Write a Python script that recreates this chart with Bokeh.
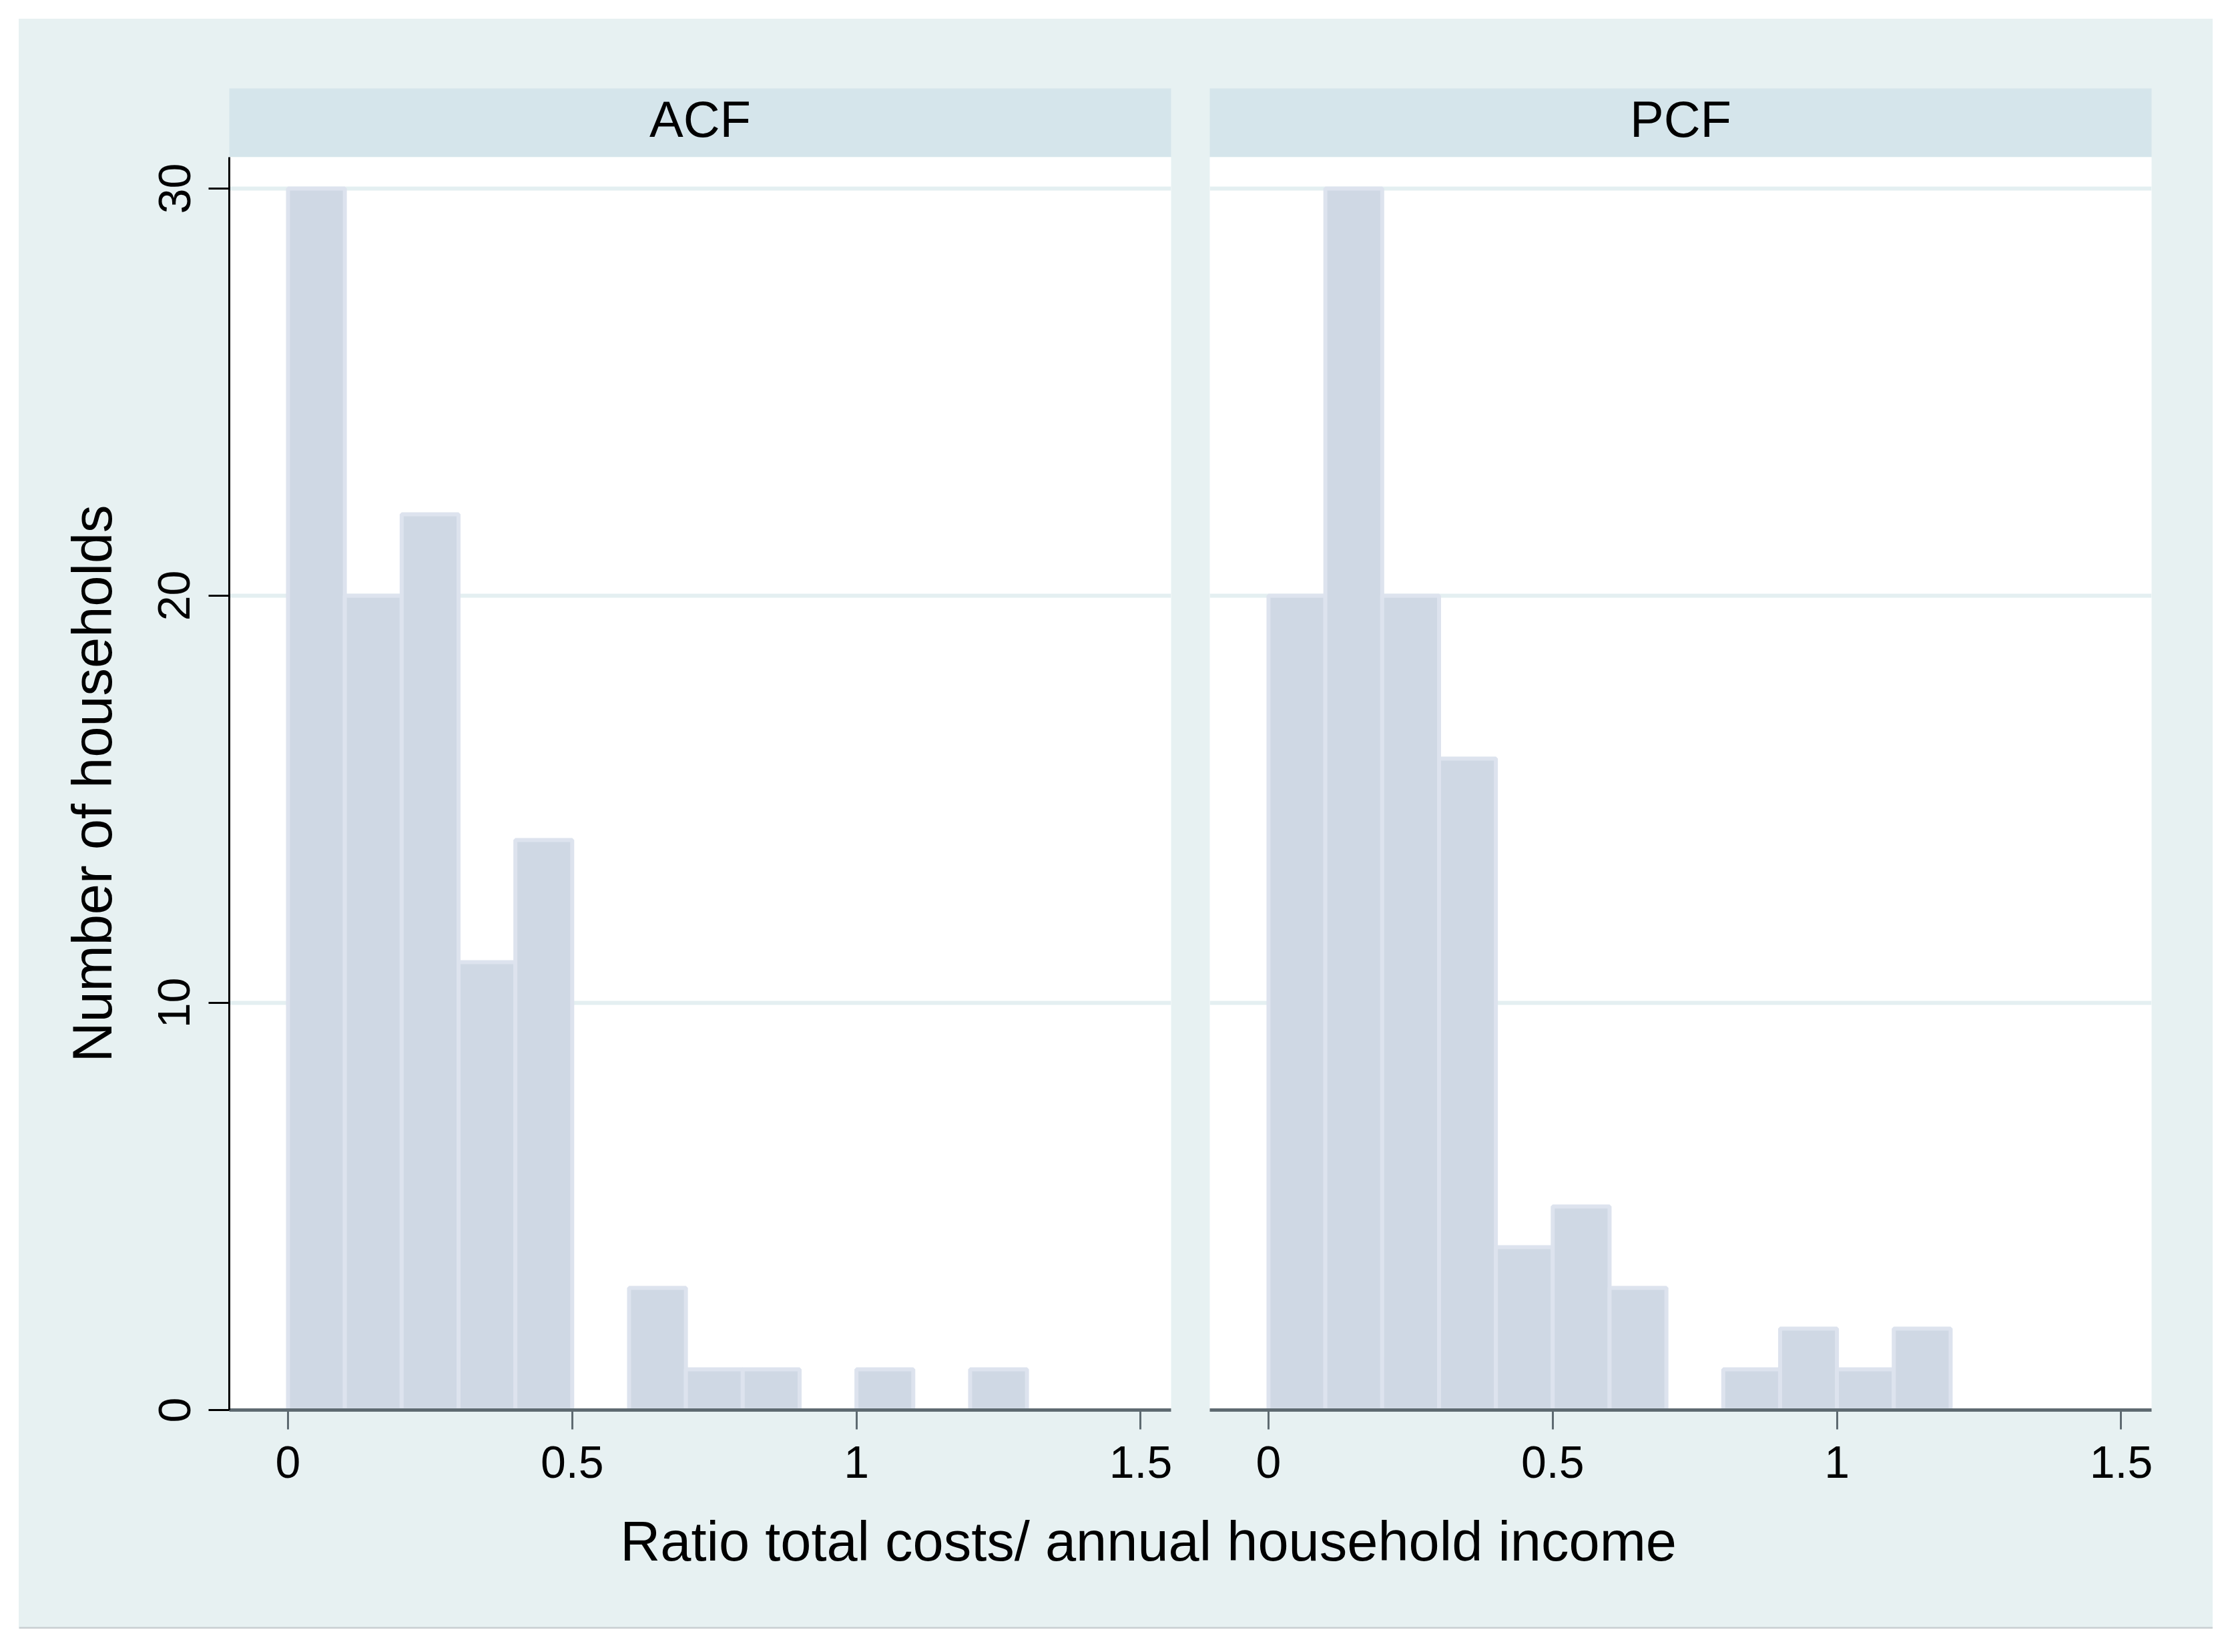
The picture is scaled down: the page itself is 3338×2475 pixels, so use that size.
from bokeh.plotting import figure
from bokeh.layouts import row, column
from bokeh.models import (Range1d, FixedTicker, Label, ColumnDataSource, Grid, Span)
from bokeh.embed import file_html
from bokeh.resources import INLINE

# ---------------- data ----------------
bin_width = 0.1
acf_bin_left = [0.0, 0.1, 0.2, 0.3, 0.4, 0.5, 0.6, 0.7, 0.8, 0.9, 1.0, 1.1, 1.2]
acf_counts = [30, 20, 22, 11, 14, 0, 3, 1, 1, 0, 1, 0, 1]
pcf_bin_left = [0.0, 0.1, 0.2, 0.3, 0.4, 0.5, 0.6, 0.7, 0.8, 0.9, 1.0, 1.1]
pcf_counts = [20, 30, 20, 16, 4, 5, 3, 0, 1, 2, 1, 2]
panel_titles = ["ACF", "PCF"]
x_tick_values = [0, 0.5, 1, 1.5]
x_tick_labels = ["0", "0.5", "1", "1.5"]
y_tick_values = [0, 10, 20, 30]
y_tick_labels = ["0", "10", "20", "30"]
x_title = "Ratio total costs/ annual household income"
y_title = "Number of households"

# ---------------- style ----------------
FONT = "Liberation Sans"
BG = "#E7F1F2"
STRIP = "#D5E5EB"
BAR_FILL = "#CFD8E4"
BAR_LINE = "#DDE3EE"
GRID = "#E4EFF1"
XAXIS = "#5E6A71"

X_LO, X_HI = -0.1033, 1.5535
Y_HI = 30.77

HEAD_H = 207
MAIN_H = 2015


def make_header(title, width, mb_left, mb_right):
    h = figure(width=width, height=HEAD_H, x_range=Range1d(0, 1), y_range=Range1d(0, 1),
               toolbar_location=None, output_backend="svg",
               min_border_left=mb_left, min_border_right=mb_right,
               min_border_top=104, min_border_bottom=0,
               x_axis_location=None, y_axis_location=None)
    h.border_fill_color = BG
    h.background_fill_color = STRIP
    h.outline_line_color = None
    h.xgrid.visible = False
    h.ygrid.visible = False
    h.add_layout(Label(x=0.5, y=0.553, text=title, text_align="center",
                       text_baseline="alphabetic", text_font=FONT,
                       text_font_size="76px", text_color="black"))
    return h


def make_panel(lefts, counts, width, mb_left, mb_right, show_y):
    src = ColumnDataSource(dict(
        left=[l for l, c in zip(lefts, counts) if c > 0],
        right=[l + bin_width for l, c in zip(lefts, counts) if c > 0],
        top=[c for c in counts if c > 0],
    ))
    p = figure(width=width, height=MAIN_H, x_range=Range1d(X_LO, X_HI),
               y_range=Range1d(0, Y_HI), toolbar_location=None,
               output_backend="svg", min_border_left=mb_left,
               min_border_right=mb_right, min_border_top=0,
               min_border_bottom=138,
               y_axis_location="left" if show_y else None)
    p.border_fill_color = BG
    p.background_fill_color = "white"
    p.outline_line_color = None
    p.xgrid.visible = False

    grid_ticker = FixedTicker(ticks=[10, 20, 30])
    if show_y:
        p.ygrid.ticker = grid_ticker
        p.ygrid.grid_line_color = GRID
        p.ygrid.grid_line_width = 6
    else:
        for g in p.ygrid:
            g.visible = False
        p.add_layout(Grid(dimension=1, ticker=grid_ticker,
                          grid_line_color=GRID, grid_line_width=6))

    p.quad(left="left", right="right", top="top", bottom=0, source=src,
           fill_color=BAR_FILL, line_color=BAR_LINE, line_width=6)

    xa = p.xaxis[0]
    xa.ticker = FixedTicker(ticks=x_tick_values)
    xa.major_label_overrides = {v: l for v, l in zip(x_tick_values, x_tick_labels)}
    xa.axis_line_color = XAXIS
    xa.axis_line_width = 5
    xa.major_tick_line_color = XAXIS
    xa.major_tick_line_width = 3
    xa.major_tick_out = 29
    xa.major_tick_in = 0
    xa.minor_tick_line_color = None
    xa.major_label_text_font = FONT
    xa.major_label_text_font_size = "68px"
    xa.major_label_text_color = "black"
    xa.major_label_standoff = 25

    if show_y:
        ya = p.yaxis[0]
        ya.ticker = FixedTicker(ticks=y_tick_values)
        ya.major_label_overrides = {v: l for v, l in zip(y_tick_values, y_tick_labels)}
        ya.axis_line_color = "black"
        ya.axis_line_width = 3
        ya.major_tick_line_color = "black"
        ya.major_tick_line_width = 3
        ya.major_tick_out = 31
        ya.major_tick_in = 0
        ya.minor_tick_line_color = None
        ya.major_label_orientation = "vertical"
        ya.major_label_text_font = FONT
        ya.major_label_text_font_size = "68px"
        ya.major_label_text_color = "black"
        ya.major_label_standoff = 28
        ya.axis_label = y_title
        ya.axis_label_text_font = FONT
        ya.axis_label_text_font_size = "83px"
        ya.axis_label_text_font_style = "normal"
        ya.axis_label_text_color = "black"
        ya.axis_label_standoff = 50
    return p


h1 = make_header(panel_titles[0], 1755, 315, 29)
h2 = make_header(panel_titles[1], 1532, 29, 92)
p1 = make_panel(acf_bin_left, acf_counts, 1755, 315, 29, True)
p2 = make_panel(pcf_bin_left, pcf_counts, 1532, 29, 92, False)

p3 = figure(width=3287, height=190, x_range=Range1d(0, 1), y_range=Range1d(0, 1),
            toolbar_location=None, output_backend="svg", min_border=0,
            x_axis_location=None, y_axis_location=None)
p3.border_fill_color = BG
p3.background_fill_color = BG
p3.outline_line_color = None
p3.xgrid.visible = False
p3.ygrid.visible = False
p3.add_layout(Label(x=0.5148, y=0.6895, text=x_title, text_align="center",
                    text_baseline="alphabetic", text_font=FONT,
                    text_font_size="83px", text_color="black"))
p3.add_layout(Span(location=0.008, dimension="width", line_color="#C9CFD2",
                   line_width=3))

head_row = row(h1, h2, styles={"background-color": BG})
main_row = row(p1, p2, styles={"background-color": BG})
layout = column(head_row, main_row, p3, margin=(28, 0, 0, 28),
                styles={"background-color": BG})

with open("out.html", "w") as f:
    f.write(file_html(layout, INLINE))
